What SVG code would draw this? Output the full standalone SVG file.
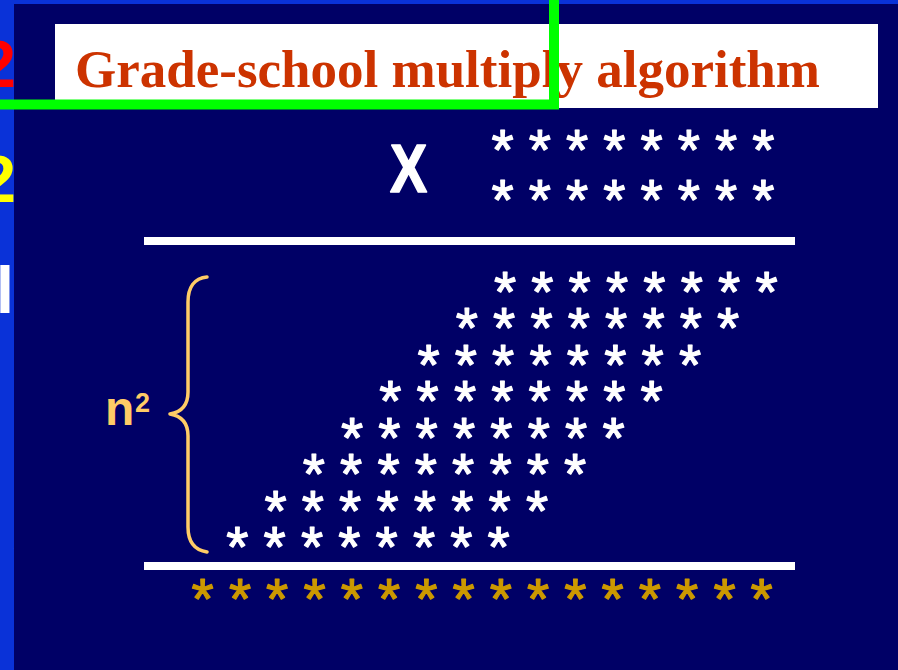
<svg xmlns="http://www.w3.org/2000/svg" width="898" height="670" viewBox="0 0 898 670">
  <defs>
    <style>
      .star { font-family: "Liberation Sans", Arial, sans-serif; font-size: 57px; text-anchor: middle; stroke-width: 1.2; stroke-linejoin: round; }
      .w { fill: #ffffff; stroke: #ffffff; }
      .g { fill: #cc9900; stroke: #cc9900; }
      .rule { fill: #ffffff; }
      .lbl { font-family: "Liberation Sans", Arial, sans-serif; font-weight: bold; fill: #ffcc66; }
    </style>
    <clipPath id="stripClip"><rect x="0" y="0" width="14" height="670"/></clipPath>
    <clipPath id="tipClip"><rect x="0" y="533" width="14" height="16"/></clipPath>
  </defs>

  <rect id="background" x="0" y="0" width="898" height="670" fill="#000066"/>
  <g id="frame-strip">
    <rect x="0" y="0" width="898" height="4" fill="#0a32d8"/>
    <rect x="0" y="0" width="14" height="670" fill="#0a32d8"/>
    <g clip-path="url(#stripClip)" font-family="Liberation Sans, Arial, sans-serif" font-weight="bold" font-size="66">
      <text x="16" y="87" text-anchor="end" fill="#ff0000">2</text>
      <text x="16" y="202" text-anchor="end" fill="#ffff00">2</text>
      <text x="14" y="313" text-anchor="end" fill="#ffffff">l</text>
    </g>
    <g clip-path="url(#tipClip)" font-family="Liberation Sans, Arial, sans-serif" font-weight="bold" font-size="66">
      <text x="40" y="580" text-anchor="end" fill="#ffff00">4</text>
    </g>
  </g>

  <g id="title">
    <rect x="55" y="24" width="823" height="84" fill="#ffffff"/>
    <text x="75" y="87" font-family="Liberation Serif, 'Times New Roman', serif" font-weight="bold" font-size="53" fill="#cc3300">Grade-school multiply algorithm</text>
  </g>

  <g id="highlight">
    <rect x="-10" y="-10" width="564" height="114.5" fill="none" stroke="#00ff00" stroke-width="10"/>
  </g>

  <g id="times-sign">
    <text transform="translate(408.5,192) scale(0.82,1)" text-anchor="middle" font-family="Liberation Sans, Arial, sans-serif" font-weight="bold" font-size="68" fill="#ffffff" stroke="#ffffff" stroke-width="1.5" stroke-linejoin="round">X</text>
  </g>

  <g id="multiplicand">
    <text class="star w" x="502.7 539.9 577.2 614.4 651.6 688.9 726.1 763.3" y="169.5">********</text>
  </g>
  <g id="multiplier">
    <text class="star w" x="502.7 539.9 577.2 614.4 651.6 688.9 726.1 763.3" y="219.5">********</text>
  </g>

  <g id="rules">
    <rect class="rule" x="144" y="237" width="651" height="8"/>
    <rect class="rule" x="144" y="562" width="651" height="8"/>
  </g>

  <g id="partial-products">
    <text class="star w" x="505 542.4 579.7 617.1 654.4 691.8 729.1 766.5" y="311.5">********</text>
    <text class="star w" x="466.8 504.1 541.5 578.8 616.2 653.5 690.9 728.2" y="348">********</text>
    <text class="star w" x="428.5 465.9 503.2 540.6 577.9 615.3 652.6 690" y="384.6">********</text>
    <text class="star w" x="390.3 427.6 465 502.3 539.7 577 614.4 651.7" y="421.1">********</text>
    <text class="star w" x="352 389.4 426.7 464.1 501.4 538.8 576.1 613.5" y="457.6">********</text>
    <text class="star w" x="313.8 351.1 388.5 425.8 463.2 500.5 537.9 575.2" y="494.2">********</text>
    <text class="star w" x="275.5 312.9 350.2 387.6 424.9 462.3 499.6 537" y="530.7">********</text>
    <text class="star w" x="237.3 274.6 312 349.3 386.7 424 461.4 498.7" y="567.2">********</text>
  </g>

  <g id="brace">
    <path d="M207,277 C194,278 188,288 188,302 L188,392 C188,404 182,412 170,414 C182,416 188,424 188,436 L188,527 C188,541 194,550 207,552" fill="none" stroke="#ffcc66" stroke-width="3.5" stroke-linecap="round" stroke-linejoin="round"/>
  </g>

  <g id="n-squared">
    <text class="lbl" x="105" y="425" font-size="48">n</text>
    <text class="lbl" x="135" y="412" font-size="27">2</text>
  </g>

  <g id="product">
    <text class="star g" x="202.7 240 277.2 314.5 351.8 389.1 426.3 463.6 500.9 538.1 575.4 612.7 649.9 687.2 724.5 761.7" y="618.5">****************</text>
  </g>
</svg>
